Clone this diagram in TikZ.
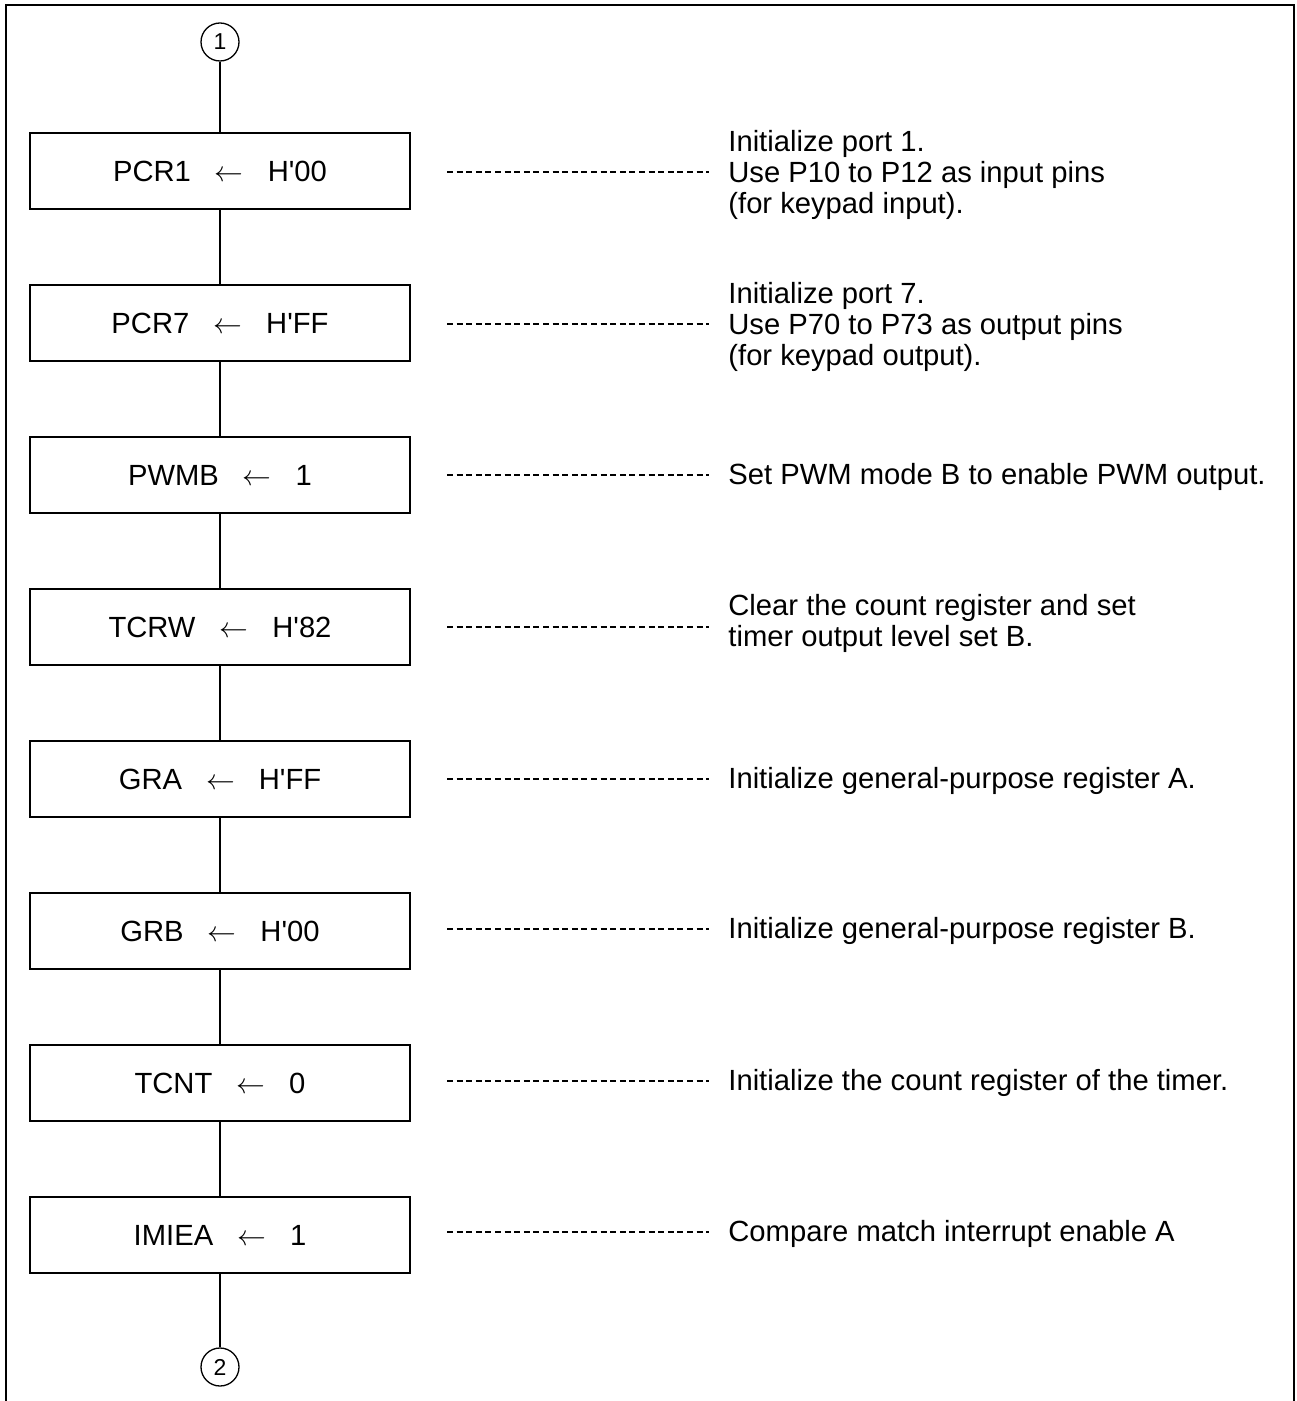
\documentclass[tikz,border=0pt]{standalone}
\usepackage{fontspec}
\setmainfont{Liberation Sans}
\newcommand{\asg}{\hspace{12pt}$\leftarrow$\hspace{12pt}}
\begin{document}
\begin{tikzpicture}[x=0.5pt,y=-0.5pt,
  stepbox/.style={draw, line width=0.65pt, minimum width=190pt, minimum height=38pt, inner sep=0pt,
    font=\fontsize{14.6pt}{15.5pt}\selectfont},
  conn/.style={draw, circle, line width=0.65pt, minimum size=19pt, inner sep=0pt,
    font=\fontsize{11.5pt}{13pt}\selectfont},
  flow/.style={line width=0.65pt},
  leader/.style={line width=0.6pt, dash pattern=on 3pt off 1.8pt},
  note/.style={anchor=west, inner sep=0pt, align=left,
    font=\fontsize{14.6pt}{15.5pt}\selectfont}]
\useasboundingbox (0,0) rectangle (1296,1401);
\draw[line width=1pt] (6,1401) -- (6,5) -- (1294,5) -- (1294,1401);

\node[conn] (c1) at (220,42) {1};
\node[conn] (c2) at (220,1367) {2};

\node[stepbox] (b1) at (220,171) {PCR1\asg H\textquotesingle 00};
\node[stepbox] (b2) at (220,323) {PCR7\asg H\textquotesingle FF};
\node[stepbox] (b3) at (220,475) {PWMB\asg 1};
\node[stepbox] (b4) at (220,627) {TCRW\asg H\textquotesingle 82};
\node[stepbox] (b5) at (220,779) {GRA\asg H\textquotesingle FF};
\node[stepbox] (b6) at (220,931) {GRB\asg H\textquotesingle 00};
\node[stepbox] (b7) at (220,1083) {TCNT\asg 0};
\node[stepbox] (b8) at (220,1235) {IMIEA\asg 1};

\draw[flow] (c1) -- (b1);
\draw[flow] (b1) -- (b2);
\draw[flow] (b2) -- (b3);
\draw[flow] (b3) -- (b4);
\draw[flow] (b4) -- (b5);
\draw[flow] (b5) -- (b6);
\draw[flow] (b6) -- (b7);
\draw[flow] (b7) -- (b8);
\draw[flow] (b8) -- (c2);

\node[note] (t1) at (728,175) {Initialize port 1.\\Use P10 to P12 as input pins\\(for keypad input).};
\node[note] (t2) at (728,327) {Initialize port 7.\\Use P70 to P73 as output pins\\(for keypad output).};
\node[note] (t3) at (728,477) {Set PWM mode B to enable PWM output.};
\node[note] (t4) at (728,623) {Clear the count register and set\\timer output level set B.};
\node[note] (t5) at (728,781) {Initialize general-purpose register A.};
\node[note] (t6) at (728,931) {Initialize general-purpose register B.};
\node[note] (t7) at (728,1083) {Initialize the count register of the timer.};
\node[note] (t8) at (728,1234) {Compare match interrupt enable A};

\foreach \i/\yy in {1/172,2/324,3/475,4/627,5/779,6/929,7/1081,8/1232}{
  \coordinate (d\i a) at (447,\yy);
  \coordinate (d\i b) at (709,\yy);
  \draw[leader] (d\i a) -- (d\i b);
}
\end{tikzpicture}
\end{document}
